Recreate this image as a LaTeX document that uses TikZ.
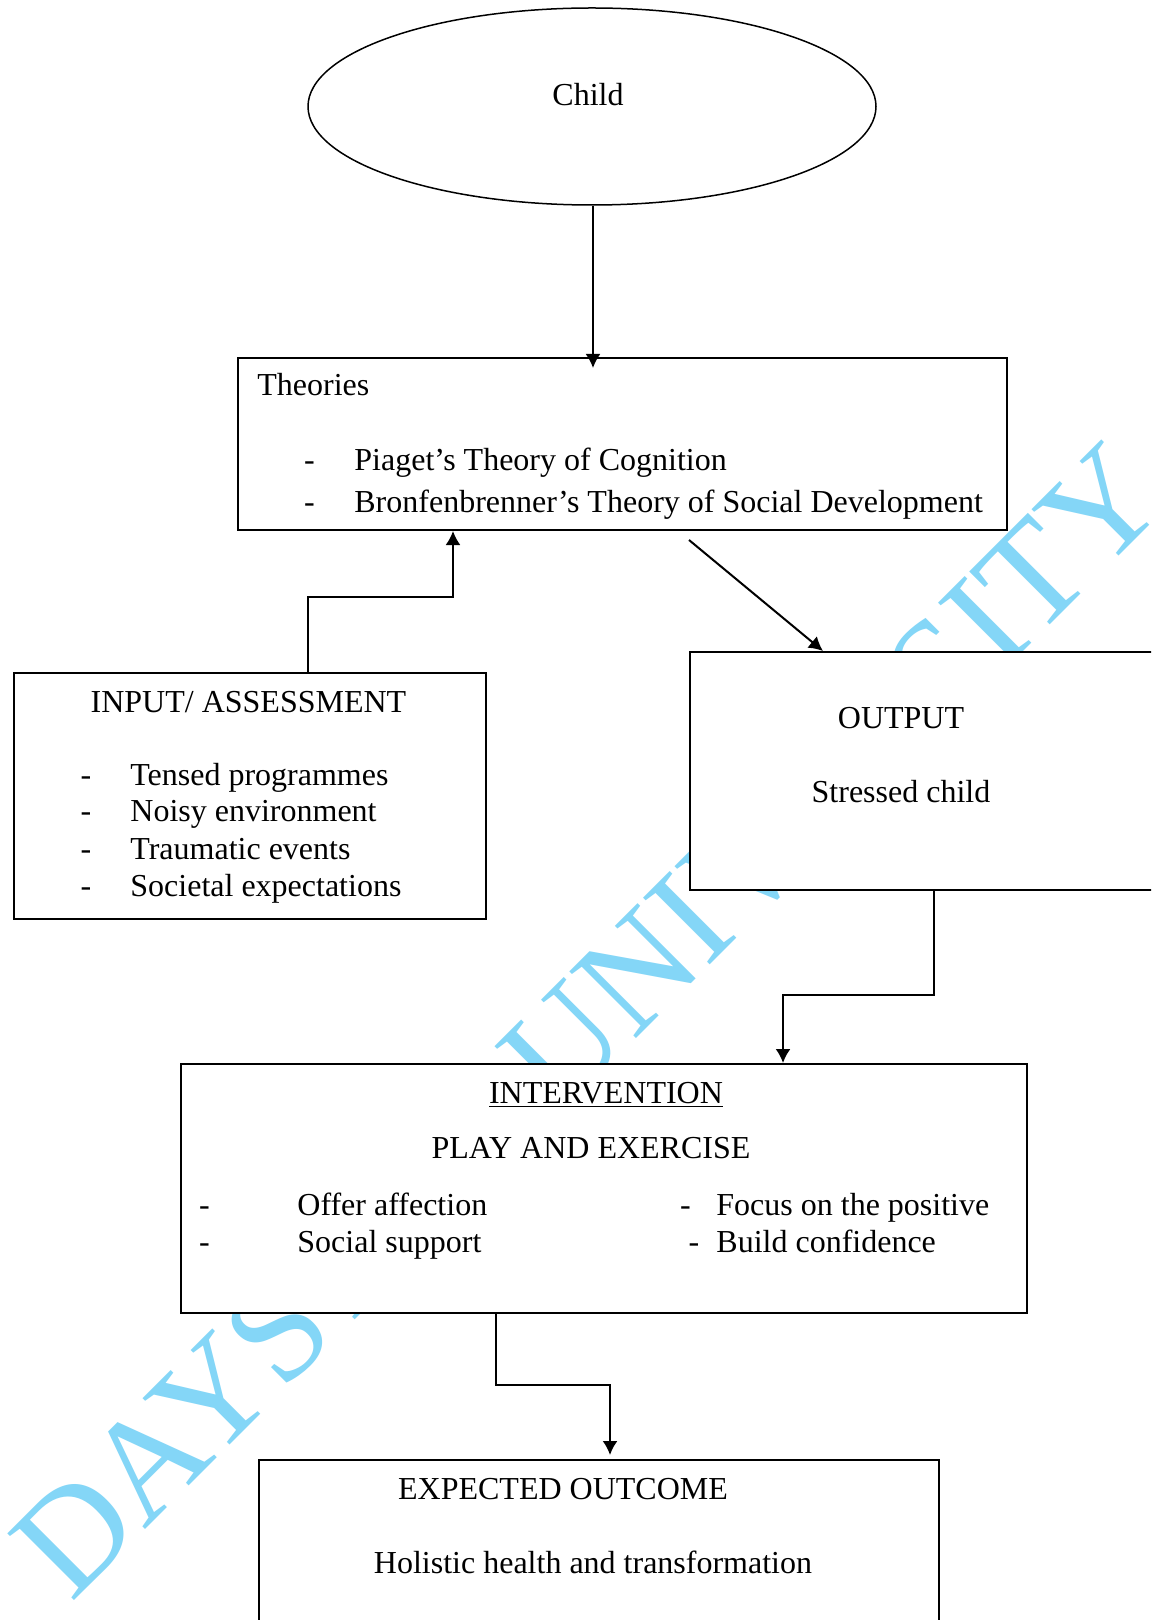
\documentclass[tikz,border=0pt]{standalone}
\usepackage{fontspec}
\setmainfont{Liberation Serif}
\usetikzlibrary{arrows.meta,shapes.geometric}
\definecolor{wmblue}{RGB}{132,214,247}
\tikzset{
  box/.style={draw=black,line width=1pt,fill=white,anchor=north west,inner sep=0pt},
  txt/.style={inner sep=0pt,font=\fontsize{16}{19}\selectfont},
  txtl/.style={txt,anchor=base west},
  txtc/.style={txt,anchor=base},
  arr/.style={line width=1pt,-{Latex[length=7pt,width=7.5pt]}},
  wm/.style={inner sep=0pt,text=wmblue,font=\fontsize{72}{80}\selectfont,anchor=base,rotate=45}
}
\begin{document}
\begin{tikzpicture}[x=0.5pt,y=-0.5pt]
\useasboundingbox (0,0) rectangle (1151,1620);
\clip (0,0) rectangle (1151,1620);
\fill[white] (0,0) rectangle (1151,1620);
% watermark
\node[wm] (wmark) at (621,1054) {DAYSTAR UNIVERSITY};
% child
\node[ellipse,draw,line width=0.75pt,fill=white,minimum width=284pt,minimum height=98.5pt,inner sep=0pt] (child) at (592,106.5) {};
\node[txtc] (childt) at (588,106) {Child};
% theories
\node[box,minimum width=384.5pt,minimum height=86pt] (theories) at (237,357) {};
\node[txtl] (th0) at (257,396) {Theories};
\node[txtc] (thd1) at (309.5,471) {-};
\node[txtl] (th1) at (354,471) {Piaget’s Theory of Cognition};
\node[txtc] (thd2) at (309.5,512) {-};
\node[txtl] (th2) at (354,512) {Bronfenbrenner’s Theory of Social Development};
% input
\node[box,minimum width=236pt,minimum height=123pt] (input) at (13,672) {};
\node[txtc] (in0) at (248.5,712) {INPUT/ ASSESSMENT};
\node[txtc] (ind1) at (86,785) {-};
\node[txtl] (in1) at (130,785) {Tensed programmes};
\node[txtc] (ind2) at (86,821.5) {-};
\node[txtl] (in2) at (130,821.5) {Noisy environment};
\node[txtc] (ind3) at (86,859) {-};
\node[txtl] (in3) at (130,859) {Traumatic events};
\node[txtc] (ind4) at (86,896) {-};
\node[txtl] (in4) at (130,896) {Societal expectations};
% output
\node[box,minimum width=243pt,minimum height=119pt] (output) at (689,651) {};
\node[txtc] (out0) at (901,728.5) {OUTPUT};
\node[txtc] (out1) at (901,802) {Stressed child};
% intervention
\node[box,minimum width=423pt,minimum height=124.5pt] (intervention) at (180,1063) {};
\node[txtc] (iv0) at (606,1103.5) {\underline{INTERVENTION}};
\node[txtc] (iv1) at (591,1158) {PLAY AND EXERCISE};
\node[txtc] (ivd1) at (204.5,1215) {-};
\node[txtl] (iv2) at (297,1215) {Offer affection};
\node[txtc] (ivd2) at (204.5,1252) {-};
\node[txtl] (iv3) at (297,1252) {Social support};
\node[txtc] (ivd3) at (685.5,1215) {-};
\node[txtl] (iv4) at (716,1215) {Focus on the positive};
\node[txtc] (ivd4) at (694,1252) {-};
\node[txtl] (iv5) at (716,1252) {Build confidence};
% outcome
\node[box,minimum width=340pt,minimum height=95.5pt] (outcome) at (258,1459) {};
\node[txtc] (oc0) at (563,1499) {EXPECTED OUTCOME};
\node[txtc] (oc1) at (593,1573) {Holistic health and transformation};
% connectors
\draw[arr] (child.south -| 593,0) -- ([yshift=-5.5pt]theories.north -| 593,0);
\draw[arr] (input.north -| 308,0) -- (308,597) -| (theories.south -| 453,0);
\coordinate (tstart) at (689,540);
\draw[arr] (tstart) -- (output.north -| 823,0);
\draw[arr] (output.south -| 934,0) -- (934,995) -| (intervention.north -| 783,0);
\draw[arr] (intervention.south -| 496,0) -- (496,1385) -| ([yshift=2pt]outcome.north -| 610,0);
\end{tikzpicture}
\end{document}
